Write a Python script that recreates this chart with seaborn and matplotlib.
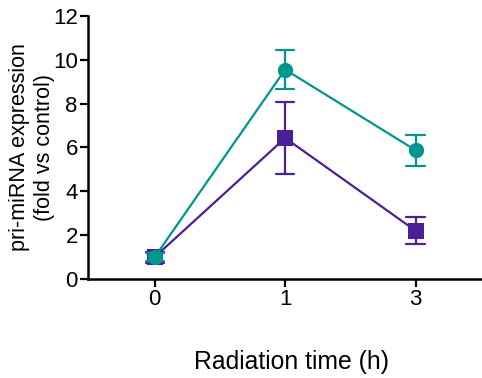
import matplotlib
matplotlib.use("Agg")
import matplotlib.pyplot as plt
import seaborn as sns
import pandas as pd

# values (mean and error half-width)
times = ["0", "1", "3"]
teal_mean = [1.0, 9.55, 5.87]
teal_err = [0.2, 0.88, 0.71]
purple_mean = [1.0, 6.43, 2.2]
purple_err = [0.25, 1.65, 0.62]
groups = ["purple", "teal"]
colors = {"purple": "#4b1f98", "teal": "#00968f"}

# build two-point "replicates" so the pi interval gives mean +/- err
rows = []
for g, means, errs in [("purple", purple_mean, purple_err), ("teal", teal_mean, teal_err)]:
    for t, m, e in zip(times, means, errs):
        rows.append({"time": t, "group": g, "value": m - e})
        rows.append({"time": t, "group": g, "value": m + e})
df = pd.DataFrame(rows)

sns.set_style("ticks")
plt.rcParams['font.family'] = ['Liberation Sans', 'DejaVu Sans']
plt.rcParams.update({"text.color": "black", "axes.labelcolor": "black",
                     "xtick.color": "black", "ytick.color": "black"})

fig = plt.figure(figsize=(4.82, 3.78), dpi=100)
ax = fig.add_axes([0.183, 0.262, 0.82, 0.696])

sns.pointplot(data=df, x="time", y="value", hue="group", order=times,
              hue_order=groups, palette=colors, markers=["s", "o"],
              errorbar=("pi", 100), capsize=0.14, dodge=False,
              linewidth=1.6, markersize=11, markeredgewidth=0,
              err_kws={"linewidth": 1.6}, legend=False, ax=ax)

ax.set_xlim(-0.51, 2.52)
ax.set_ylim(0, 12)
ax.set_yticks([0, 2, 4, 6, 8, 10, 12])
ax.set_xlabel("Radiation time (h)", fontsize=17.8)
ax.set_ylabel("pri-miRNA expression\n(fold vs control)", fontsize=15.5)
ax.xaxis.set_label_coords(0.514, -0.27)
ax.yaxis.set_label_coords(-0.085, 0.5)
ax.tick_params(axis="both", labelsize=16, width=1.6, length=6, pad=1.5, color="black")
for s in ["left", "bottom"]:
    ax.spines[s].set_linewidth(1.8)
    ax.spines[s].set_color("black")
sns.despine(ax=ax)

fig.savefig("out.png", dpi=100)
